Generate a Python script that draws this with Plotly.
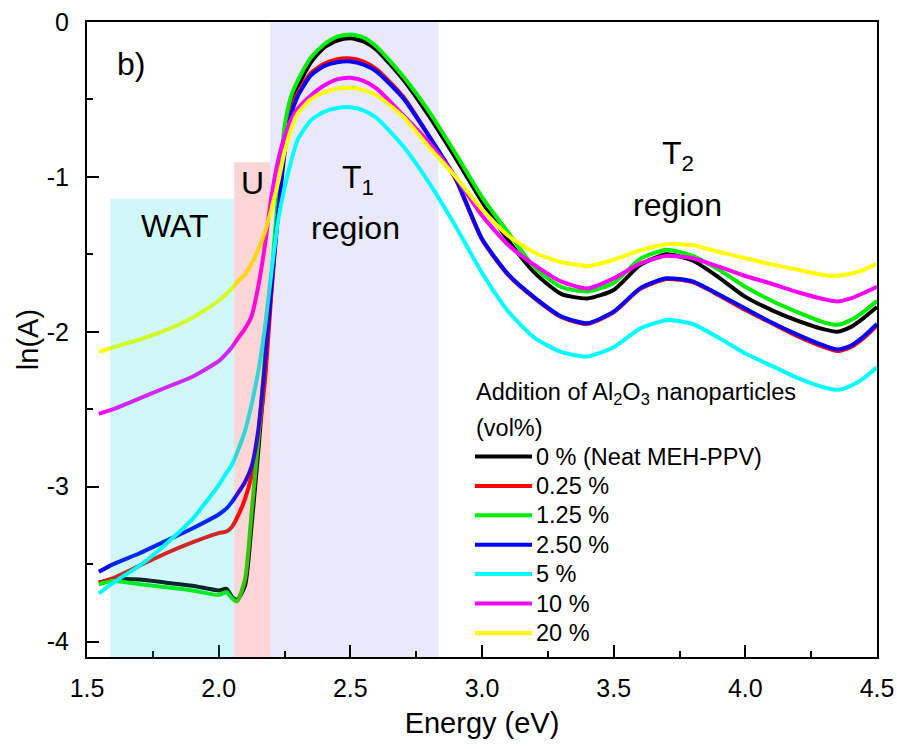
import plotly.graph_objects as go

# ---------------- data ----------------
energy = [1.545, 1.6, 1.7, 1.8, 1.9, 2.0, 2.03, 2.05, 2.07, 2.1, 2.125, 2.15, 2.175, 2.2,
          2.225, 2.25, 2.275, 2.3, 2.35, 2.4, 2.45, 2.5, 2.55, 2.6, 2.7, 2.8, 2.9, 3.0,
          3.1, 3.2, 3.3, 3.4, 3.5, 3.6, 3.7, 3.8, 3.9, 4.0, 4.1, 4.2, 4.3, 4.35, 4.4, 4.45, 4.5]

ln_a_0 = [-3.62, -3.60, -3.60, -3.62, -3.64, -3.67, -3.66, -3.71, -3.73, -3.64, -3.25, -2.78, -2.26, -1.72,
          -1.20, -0.74, -0.52, -0.42, -0.26, -0.165, -0.12, -0.105, -0.125, -0.18, -0.37, -0.61, -0.88, -1.16,
          -1.41, -1.62, -1.755, -1.785, -1.73, -1.57, -1.50, -1.54, -1.65, -1.775, -1.86, -1.93, -1.985, -2.0, -1.97, -1.91, -1.84]

ln_a_025 = [-3.62, -3.59, -3.51, -3.43, -3.36, -3.30, -3.29, -3.26, -3.20, -3.08, -2.93, -2.68, -2.33, -1.76,
            -1.24, -0.83, -0.58, -0.46, -0.33, -0.27, -0.24, -0.235, -0.255, -0.305, -0.48, -0.74, -1.015, -1.405,
            -1.635, -1.785, -1.905, -1.95, -1.875, -1.725, -1.66, -1.68, -1.765, -1.86, -1.945, -2.03, -2.10, -2.125, -2.10, -2.04, -1.96]

ln_a_125 = [-3.63, -3.61, -3.63, -3.65, -3.67, -3.70, -3.68, -3.72, -3.74, -3.60, -3.17, -2.70, -2.18, -1.65,
            -1.14, -0.68, -0.48, -0.38, -0.23, -0.145, -0.095, -0.08, -0.10, -0.16, -0.35, -0.58, -0.85, -1.13,
            -1.36, -1.585, -1.71, -1.74, -1.685, -1.53, -1.47, -1.51, -1.60, -1.71, -1.80, -1.875, -1.94, -1.955, -1.925, -1.87, -1.80]

ln_a_250 = [-3.55, -3.50, -3.43, -3.35, -3.27, -3.18, -3.14, -3.10, -3.05, -2.97, -2.87, -2.64, -2.22, -1.71,
            -1.25, -0.85, -0.60, -0.48, -0.345, -0.285, -0.26, -0.255, -0.275, -0.32, -0.49, -0.74, -1.01, -1.40,
            -1.63, -1.78, -1.90, -1.945, -1.87, -1.72, -1.655, -1.675, -1.76, -1.85, -1.94, -2.02, -2.09, -2.115, -2.09, -2.03, -1.95]

ln_a_5 = [-3.69, -3.62, -3.51, -3.37, -3.21, -2.99, -2.91, -2.86, -2.78, -2.64, -2.47, -2.26, -1.98, -1.62,
          -1.29, -1.07, -0.90, -0.76, -0.635, -0.58, -0.555, -0.55, -0.57, -0.62, -0.80, -1.04, -1.32, -1.62,
          -1.87, -2.04, -2.13, -2.16, -2.10, -1.98, -1.925, -1.95, -2.04, -2.14, -2.22, -2.30, -2.36, -2.375, -2.35, -2.30, -2.23]

ln_a_10 = [-2.53, -2.50, -2.43, -2.36, -2.29, -2.19, -2.14, -2.10, -2.05, -1.98, -1.90, -1.71, -1.45, -1.13,
           -0.90, -0.74, -0.63, -0.56, -0.475, -0.41, -0.37, -0.36, -0.38, -0.43, -0.60, -0.78, -1.00, -1.25,
           -1.44, -1.57, -1.675, -1.72, -1.655, -1.56, -1.51, -1.525, -1.58, -1.64, -1.69, -1.745, -1.79, -1.805, -1.785, -1.75, -1.71]

ln_a_20 = [-2.13, -2.10, -2.05, -1.99, -1.91, -1.80, -1.755, -1.72, -1.68, -1.63, -1.56, -1.47, -1.36, -1.21,
           -1.04, -0.84, -0.69, -0.59, -0.50, -0.455, -0.43, -0.425, -0.44, -0.475, -0.61, -0.81, -1.00, -1.21,
           -1.38, -1.49, -1.55, -1.575, -1.535, -1.475, -1.435, -1.44, -1.485, -1.525, -1.565, -1.60, -1.635, -1.638, -1.625, -1.60, -1.56]

series_values = [ln_a_0, ln_a_025, ln_a_125, ln_a_250, ln_a_5, ln_a_10, ln_a_20]
series_labels = ["0 % (Neat MEH-PPV)", "0.25 %", "1.25 %", "2.50 %", "5 %", "10 %", "20 %"]
series_colors = ["#000000", "#ff0000", "#00ee00", "#0000ff", "#00ffff", "#ff00ff", "#ffff00"]

x_tick_vals = [1.5, 2.0, 2.5, 3.0, 3.5, 4.0, 4.5]
x_tick_text = ["1.5", "2.0", "2.5", "3.0", "3.5", "4.0", "4.5"]
y_tick_vals = [0, -1, -2, -3, -4]
y_tick_text = ["0", "-1", "-2", "-3", "-4"]

# region boundaries (eV) and tops (ln A)
wat_region = (1.588, 2.059, -1.142)
u_region = (2.059, 2.196, -0.905)
t1_region = (2.196, 2.835)

FONT = "Liberation Sans, Arial, sans-serif"

fig = go.Figure()
for vals, lab, col in zip(series_values, series_labels, series_colors):
    fig.add_trace(go.Scatter(x=energy, y=vals, mode="lines", name=lab,
                             line=dict(color=col, width=4, shape="spline", smoothing=0.6),
                             showlegend=False))

Y0, Y1 = -4.1, 0.0
shapes = [
    dict(type="rect", xref="x", yref="y", x0=t1_region[0], x1=t1_region[1], y0=Y0, y1=Y1,
         fillcolor="rgb(233,233,251)", line=dict(width=0), layer="below"),
    dict(type="rect", xref="x", yref="y", x0=wat_region[0], x1=wat_region[1], y0=Y0, y1=wat_region[2],
         fillcolor="rgba(0,215,215,0.18)", line=dict(width=0), layer="above"),
    dict(type="rect", xref="x", yref="y", x0=u_region[0], x1=u_region[1], y0=Y0, y1=u_region[2],
         fillcolor="rgba(240,50,50,0.20)", line=dict(width=0), layer="above"),
]

# manual legend (paper coordinates)
PL, PW, PT, PH = 87, 790, 22, 635
def px_x(px):
    return (px - PL) / PW
def px_y(py):
    return (PT + PH - py) / PH

ANN = 32
LEG = 23.5
annotations = [
    dict(text="b)", x=1.668, y=-0.27, xref="x", yref="y", showarrow=False,
         font=dict(size=ANN, family=FONT, color="black")),
    dict(text="WAT", x=1.835, y=-1.32, xref="x", yref="y", showarrow=False,
         font=dict(size=ANN, family=FONT, color="black")),
    dict(text="U", x=2.127, y=-1.04, xref="x", yref="y", showarrow=False,
         font=dict(size=ANN, family=FONT, color="black")),
    dict(text="T<sub>1</sub>", x=2.53, y=-1.02, xref="x", yref="y", showarrow=False,
         font=dict(size=ANN, family=FONT, color="black")),
    dict(text="region", x=2.519, y=-1.33, xref="x", yref="y", showarrow=False,
         font=dict(size=ANN, family=FONT, color="black")),
    dict(text="T<sub>2</sub>", x=3.745, y=-0.86, xref="x", yref="y", showarrow=False,
         font=dict(size=ANN, family=FONT, color="black")),
    dict(text="region", x=3.741, y=-1.18, xref="x", yref="y", showarrow=False,
         font=dict(size=ANN, family=FONT, color="black")),
    dict(text="Addition of Al<sub>2</sub>O<sub>3</sub> nanoparticles", x=px_x(474), y=px_y(393),
         xref="paper", yref="paper", xanchor="left", yanchor="middle", showarrow=False,
         font=dict(size=LEG, family=FONT, color="black")),
    dict(text="(vol%)", x=px_x(474), y=px_y(428), xref="paper", yref="paper",
         xanchor="left", yanchor="middle", showarrow=False,
         font=dict(size=LEG, family=FONT, color="black")),
]
for i, (lab, col) in enumerate(zip(series_labels, series_colors)):
    yc = 456.5 + i * 29.4
    shapes.append(dict(type="line", xref="paper", yref="paper", x0=px_x(475), x1=px_x(532),
                       y0=px_y(yc), y1=px_y(yc), line=dict(color=col, width=4)))
    annotations.append(dict(text=lab, x=px_x(534), y=px_y(yc), xref="paper", yref="paper",
                            xanchor="left", yanchor="middle", showarrow=False,
                            font=dict(size=LEG, family=FONT, color="black")))

axis_common = dict(showline=True, linecolor="black", linewidth=2, mirror=True,
                   ticks="inside", ticklen=12, tickwidth=2, tickcolor="black",
                   showgrid=False, zeroline=False, automargin=False,
                   tickfont=dict(size=25, family=FONT, color="black"))

fig.update_layout(
    width=897, height=749,
    margin=dict(l=87, r=20, t=22, b=92),
    paper_bgcolor="white", plot_bgcolor="white",
    font=dict(family=FONT, color="black"),
    shapes=shapes, annotations=annotations,
    xaxis=dict(range=[1.5, 4.5], tickvals=x_tick_vals, ticktext=x_tick_text,
               ticklabelstandoff=8,
               minor=dict(ticks="inside", ticklen=6, tickwidth=2, tickcolor="black", dtick=0.25, tick0=1.5),
               title=dict(text="Energy (eV)", font=dict(size=29, family=FONT), standoff=12),
               **axis_common),
    yaxis=dict(range=[-4.1, 0], tickvals=y_tick_vals, ticktext=y_tick_text,
               ticklabelstandoff=11,
               minor=dict(ticks="inside", ticklen=6, tickwidth=2, tickcolor="black", dtick=0.5, tick0=0),
               title=dict(text="ln(A)", font=dict(size=29, family=FONT), standoff=0),
               **axis_common),
)

fig.write_html("out.html", config={"displayModeBar": False},
               post_script="document.body.style.margin='0';document.body.style.overflow='hidden';")
